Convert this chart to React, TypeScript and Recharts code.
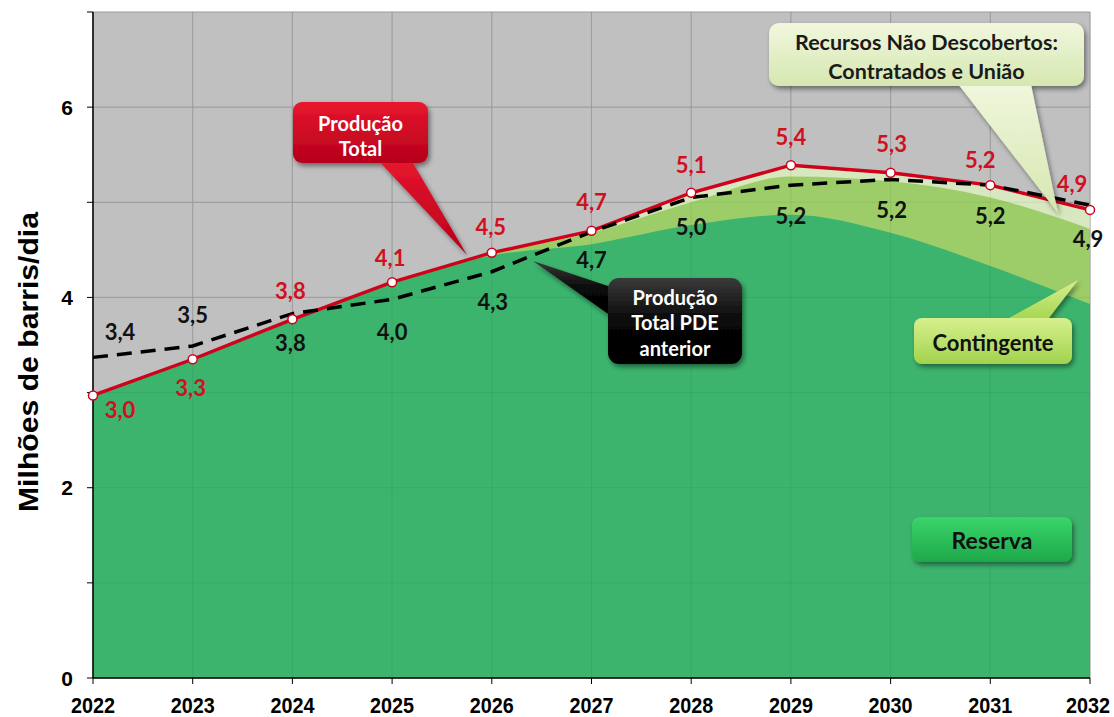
import {
  ComposedChart, Area, Line, XAxis, YAxis, CartesianGrid, LabelList, ReferenceLine,
} from "recharts";

// valores (milhões de barris/dia)
const anos = [2022, 2023, 2024, 2025, 2026, 2027, 2028, 2029, 2030, 2031, 2032];
const producaoTotal = [2.97, 3.35, 3.77, 4.16, 4.47, 4.7, 5.1, 5.39, 5.31, 5.18, 4.92];
const contingenteTopo = [2.97, 3.35, 3.77, 4.16, 4.46, 4.68, 5.0, 5.27, 5.22, 5.05, 4.72];
const reservaTopo = [2.97, 3.35, 3.77, 4.15, 4.44, 4.56, 4.76, 4.87, 4.68, 4.33, 3.93];
const pdeAnterior = [3.37, 3.49, 3.83, 3.98, 4.27, 4.69, 5.05, 5.18, 5.24, 5.18, 4.97];
const rotulosTotal = ["3,0", "3,3", "3,8", "4,1", "4,5", "4,7", "5,1", "5,4", "5,3", "5,2", "4,9"];
const rotulosPde = ["3,4", "3,5", "3,8", "4,0", "4,3", "4,7", "5,0", "5,2", "5,2", "5,2", "4,9"];
const yTicks = [0, 1, 2, 3, 4, 5, 6, 7];

const data = anos.map((ano, i) => ({
  ano,
  total: producaoTotal[i],
  contingente: contingenteTopo[i],
  reserva: reservaTopo[i],
  pde: pdeAnterior[i],
}));

// deslocamento dos rótulos em relação ao ponto
const offTotal: [number, number][] = [
  [27, 14], [-2, 28], [-2, -29], [-2, -25], [-1, -26], [0, -29],
  [0, -28], [0, -29], [1, -29], [-10, -26], [-18, -26],
];
const offPde: [number, number][] = [
  [27, -26], [0, -31], [-2, 29], [0, 32], [1, 30], [0, 28],
  [0, 29], [0, 30], [1, 30], [0, 30], [-2, 33],
];

const FONT = "Lato, 'Open Sans', sans-serif";
const ARIAL = "'Liberation Sans', Arial, sans-serif";

const makeLabel = (texts: string[], offs: [number, number][], color: string) =>
  (props: any) => {
    const i = props.index ?? 0;
    const x = props.x ?? props.viewBox?.x;
    const y = props.y ?? props.viewBox?.y;
    const [dx, dy] = offs[i];
    return (
      <text x={x + dx} y={y + dy} textAnchor="middle" dominantBaseline="central"
        fill={color} fontSize={22} fontWeight={700} fontFamily={FONT}>
        {texts[i]}
      </text>
    );
  };

function YTick({ x, y, payload }: any) {
  if (payload.value % 2 !== 0) return null;
  return (
    <text x={x - 12} y={y} textAnchor="end" dominantBaseline="central"
      fontSize={21} fontWeight={700} fontFamily={ARIAL} fill="#000">
      {payload.value}
    </text>
  );
}

function XTick({ x, y, payload, index }: any) {
  // o último rótulo encosta na borda direita
  const shift = index === anos.length - 1 ? -2 : 0;
  return (
    <text x={x + shift} y={y + 27} textAnchor="middle" fontSize={22} fontWeight={700}
      fontFamily={ARIAL} fill="#000" textLength={44} lengthAdjust="spacingAndGlyphs">
      {payload.value}
    </text>
  );
}

type CalloutProps = {
  x: number; y: number; w: number; h: number; r: number;
  ptr?: [number, number][];
  grad: string; lines: string[]; color: string; size: number; gap: number;
  cy: number;
};

function Callout({ x, y, w, h, r, ptr, grad, lines, color, size, gap, cy }: CalloutProps) {
  const start = cy - ((lines.length - 1) * gap) / 2;
  return (
    <g>
      <g filter="url(#sombra)">
        {ptr && <polygon points={ptr.map((p) => p.join(",")).join(" ")} fill={`url(#${grad})`} />}
        <rect x={x} y={y} width={w} height={h} rx={r} fill={`url(#${grad})`} />
      </g>
      {lines.map((t, i) => (
        <text key={t} x={x + w / 2} y={start + i * gap} textAnchor="middle"
          dominantBaseline="central" fontSize={size} fontWeight={700}
          fontFamily={FONT} fill={color}>
          {t}
        </text>
      ))}
    </g>
  );
}

export default function App() {
  return (
    <div style={{ position: "relative", width: 1114, height: 717, background: "#fff" }}>
      <style>{"body{margin:0}"}</style>
      <ComposedChart width={1114} height={717} data={data}
        margin={{ top: 12, right: 24, bottom: 9, left: 0 }}>
        <CartesianGrid fill="#C0C0C0" stroke="#A8A8A8" strokeWidth={1.2} />
        <XAxis dataKey="ano" type="number" domain={[2022, 2032]} ticks={anos}
          tick={<XTick />} tickLine={{ stroke: "#000" }} tickSize={6} height={30}
          axisLine={{ stroke: "#000", strokeWidth: 1.5 }} interval={0} />
        <YAxis width={93} domain={[0, 7]} ticks={yTicks} tick={<YTick />}
          tickLine={{ stroke: "#000" }} tickSize={6}
          axisLine={{ stroke: "#000", strokeWidth: 1.5 }} interval={0} />
        <Area dataKey="total" type="linear" fill="#D7E7BF" fillOpacity={1}
          stroke="none" isAnimationActive={false} dot={false} activeDot={false} />
        <Area dataKey="contingente" type="monotone" fill="#9CCD69" fillOpacity={1}
          stroke="none" isAnimationActive={false} dot={false} activeDot={false} />
        <Area dataKey="reserva" type="monotone" fill="#3CB46E" fillOpacity={1}
          stroke="none" isAnimationActive={false} dot={false} activeDot={false} />
        {anos.slice(1).map((a) => (
          <ReferenceLine key={a} x={a} stroke="rgba(0,0,0,0.06)" />
        ))}
        {yTicks.slice(1).map((v) => (
          <ReferenceLine key={v} y={v} stroke="rgba(0,0,0,0.06)" />
        ))}
        <Line dataKey="total" type="linear" stroke="#D0021B" strokeWidth={3.4}
          dot={{ r: 4.5, fill: "#fff", stroke: "#D0021B", strokeWidth: 1.5 }}
          activeDot={false} isAnimationActive={false}>
          <LabelList dataKey="total" content={makeLabel(rotulosTotal, offTotal, "#D0101E")} />
        </Line>
        <Line dataKey="pde" type="linear" stroke="#000" strokeWidth={3.5}
          strokeDasharray="15 9" dot={false} activeDot={false} isAnimationActive={false}>
          <LabelList dataKey="pde" content={makeLabel(rotulosPde, offPde, "#111")} />
        </Line>
      </ComposedChart>

      <svg width={1114} height={717}
        style={{ position: "absolute", left: 0, top: 0, pointerEvents: "none" }}>
        <defs>
          <filter id="sombra" x="-20%" y="-20%" width="140%" height="150%">
            <feDropShadow dx={2} dy={3} stdDeviation={2.5} floodColor="#000" floodOpacity={0.45} />
          </filter>
          <linearGradient id="gVermelho" x1="0" y1="0" x2="0" y2="1">
            <stop offset="0" stopColor="#E8162E" />
            <stop offset="1" stopColor="#B5001A" />
          </linearGradient>
          <linearGradient id="gPreto" x1="0" y1="0" x2="0" y2="1">
            <stop offset="0" stopColor="#3A3A3A" />
            <stop offset="0.5" stopColor="#080808" />
            <stop offset="1" stopColor="#000" />
          </linearGradient>
          <linearGradient id="gClaro" x1="0" y1="0" x2="0" y2="1">
            <stop offset="0" stopColor="#F1F7DE" />
            <stop offset="1" stopColor="#D5E7B0" />
          </linearGradient>
          <linearGradient id="gConting" x1="0" y1="0" x2="0" y2="1">
            <stop offset="0" stopColor="#D6F08E" />
            <stop offset="1" stopColor="#A2D34C" />
          </linearGradient>
          <linearGradient id="gReserva" x1="0" y1="0" x2="0" y2="1">
            <stop offset="0" stopColor="#3AD56A" />
            <stop offset="1" stopColor="#1EA84A" />
          </linearGradient>
        </defs>

        <text transform="translate(28,362) rotate(-90)" textAnchor="middle"
          dominantBaseline="central" fontSize={28} fontWeight={700}
          fontFamily={ARIAL} fill="#000" textLength={300} lengthAdjust="spacingAndGlyphs">
          Milhões de barris/dia
        </text>

        <Callout x={293} y={102} w={135} h={61} r={9}
          ptr={[[376, 158], [410, 158], [467, 255]]}
          grad="gVermelho" lines={["Produção", "Total"]} color="#fff"
          size={20} gap={25} cy={135} />
        <Callout x={608} y={278} w={134} h={86} r={11}
          ptr={[[614, 288], [614, 318], [533, 261]]}
          grad="gPreto" lines={["Produção", "Total PDE", "anterior"]} color="#fff"
          size={20} gap={25.5} cy={322} />
        <Callout x={769} y={23} w={315} h={63} r={10}
          ptr={[[955, 80], [1030, 80], [1058, 213]]}
          grad="gClaro" lines={["Recursos Não Descobertos:", "Contratados e União"]}
          color="#1A1A1A" size={21.5} gap={29} cy={56} />
        <Callout x={914} y={318} w={158} h={46} r={8}
          ptr={[[1000, 323], [1045, 323], [1078, 280]]}
          grad="gConting" lines={["Contingente"]} color="#111"
          size={22} gap={0} cy={342} />
        <Callout x={912} y={517} w={160} h={45} r={8}
          grad="gReserva" lines={["Reserva"]} color="#111"
          size={23} gap={0} cy={540} />
      </svg>
    </div>
  );
}
